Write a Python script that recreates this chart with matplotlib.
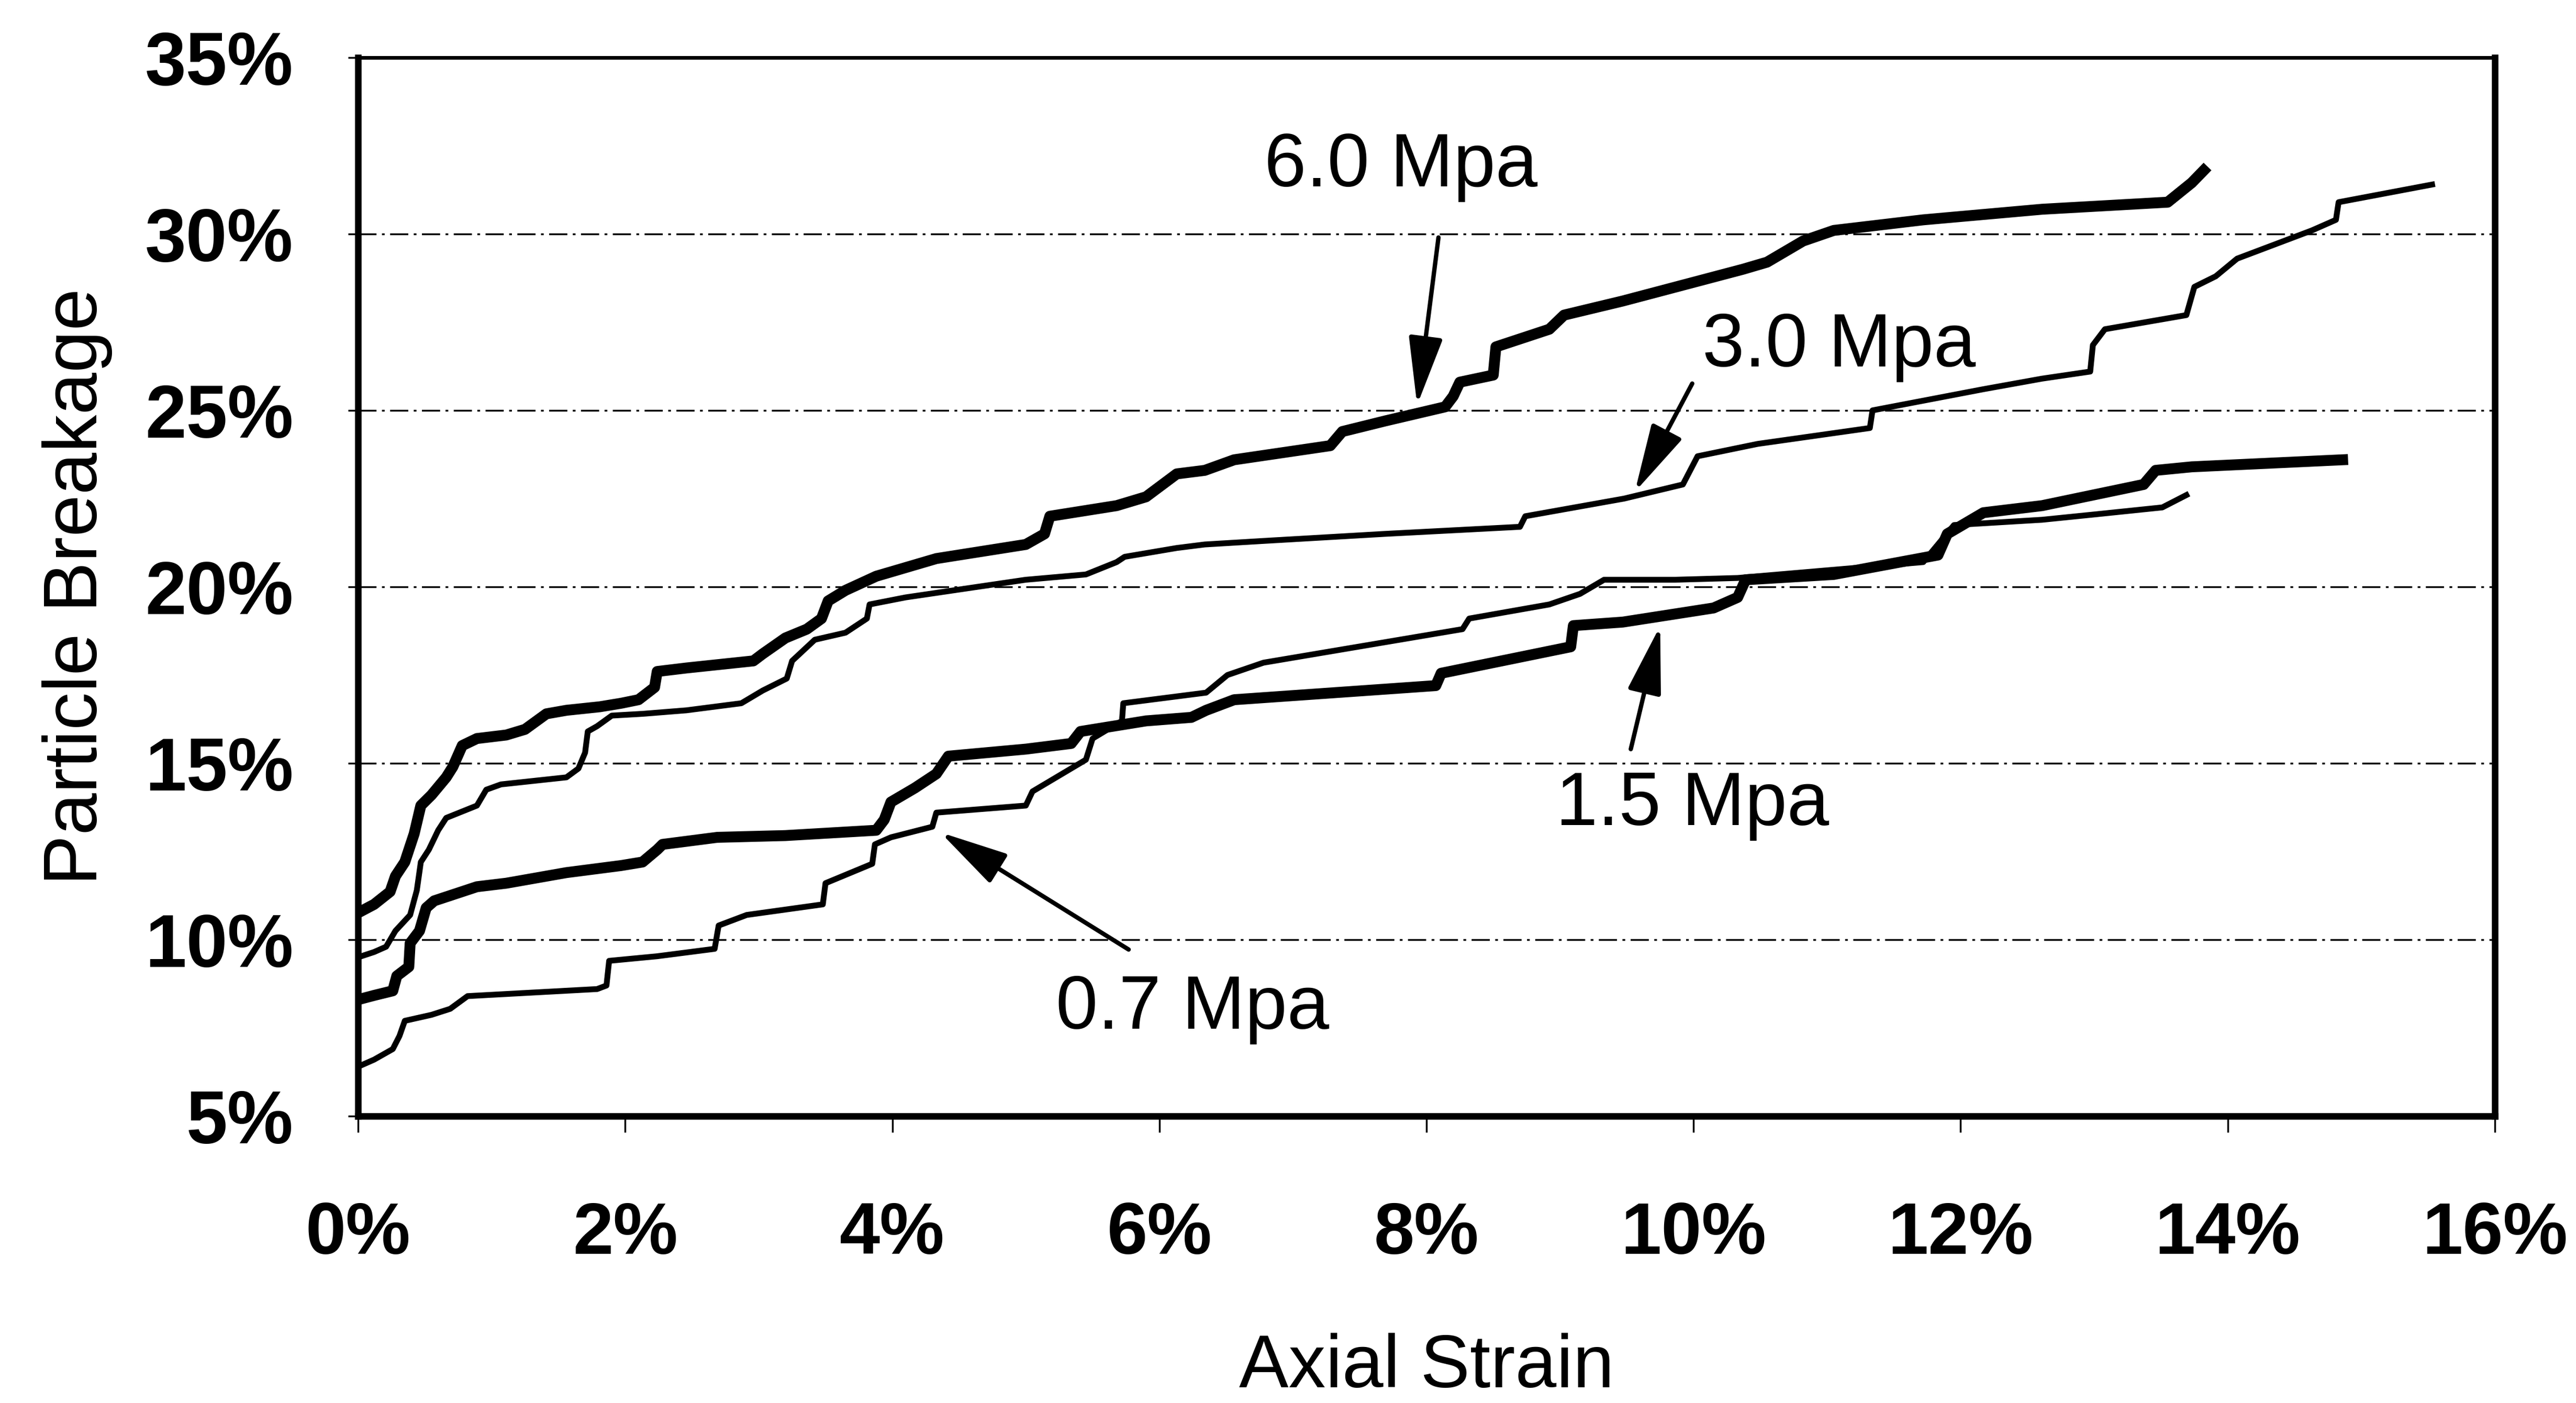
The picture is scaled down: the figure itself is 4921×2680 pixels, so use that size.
import matplotlib
matplotlib.use("Agg")
from matplotlib import pyplot as plt
from matplotlib.ticker import FuncFormatter

plt.rcParams['font.family'] = ['Liberation Sans', 'DejaVu Sans']

# axial strain (%) / particle breakage (%)
strain_60 = [0, 0.12, 0.24, 0.28, 0.35, 0.42, 0.47, 0.55, 0.66, 0.71, 0.78, 0.89, 1.11, 1.25, 1.41,
             1.56, 1.81, 1.97, 2.1, 2.22, 2.24, 2.46, 2.96, 3.03, 3.2, 3.36, 3.47, 3.52, 3.65, 3.88,
             4.33, 5.0, 5.14, 5.18, 5.68, 5.9, 6.13, 6.34, 6.56, 7.28, 7.37, 7.69, 8.14, 8.2, 8.25,
             8.5, 8.52, 8.92, 9.03, 9.47, 10.37, 10.55, 10.82, 11.05, 11.72, 12.61, 13.55, 13.73, 13.82]
break_60 = [10.76, 11.0, 11.36, 11.8, 12.2, 13.0, 13.8, 14.1, 14.6, 14.9, 15.5, 15.7, 15.8, 15.96, 16.4,
            16.5, 16.6, 16.7, 16.8, 17.15, 17.6, 17.7, 17.9, 18.1, 18.55, 18.8, 19.1, 19.6, 19.9, 20.3,
            20.8, 21.2, 21.5, 22.0, 22.3, 22.55, 23.2, 23.3, 23.6, 24.0, 24.4, 24.7, 25.1, 25.4, 25.8,
            26.0, 26.8, 27.3, 27.7, 28.1, 29.0, 29.2, 29.8, 30.1, 30.4, 30.7, 30.9, 31.45, 31.8]

strain_30 = [0, 0.12, 0.21, 0.28, 0.39, 0.44, 0.47, 0.53, 0.6, 0.66, 0.89, 0.96, 1.07, 1.56, 1.65,
             1.7, 1.72, 1.79, 1.9, 2.13, 2.46, 2.87, 3.03, 3.21, 3.25, 3.42, 3.65, 3.81, 3.83, 4.1,
             5.0, 5.45, 5.68, 5.74, 6.13, 6.34, 6.78, 7.69, 8.7, 8.74, 9.48, 9.92, 10.03, 10.48, 11.32,
             11.34, 12.17, 12.61, 12.97, 12.99, 13.08, 13.69, 13.75, 13.91, 14.07, 14.63, 14.81, 14.83, 15.53]
break_30 = [9.5, 9.65, 9.8, 10.25, 10.7, 11.4, 12.2, 12.55, 13.1, 13.45, 13.8, 14.25, 14.4, 14.6, 14.85,
            15.3, 15.9, 16.05, 16.35, 16.4, 16.5, 16.7, 17.06, 17.4, 17.9, 18.5, 18.7, 19.1, 19.5, 19.7,
            20.2, 20.35, 20.7, 20.85, 21.1, 21.2, 21.3, 21.5, 21.7, 22.0, 22.5, 22.9, 23.7, 24.05, 24.5,
            25.0, 25.6, 25.9, 26.1, 26.85, 27.3, 27.7, 28.5, 28.8, 29.3, 30.1, 30.4, 30.9, 31.4]

strain_15 = [0, 0.12, 0.26, 0.29, 0.38, 0.39, 0.46, 0.51, 0.57, 0.89, 1.11, 1.56, 1.97, 2.13, 2.24,
             2.28, 2.69, 3.2, 3.88, 3.94, 3.99, 4.17, 4.33, 4.42, 5.0, 5.34, 5.41, 5.9, 6.24, 6.35,
             6.56, 8.07, 8.11, 9.08, 9.1, 9.47, 10.15, 10.33, 10.39, 11.05, 11.83, 11.9, 12.17, 12.61,
             13.37, 13.46, 13.73, 14.86]
break_15 = [8.3, 8.42, 8.55, 8.97, 9.23, 9.9, 10.25, 10.9, 11.1, 11.5, 11.6, 11.9, 12.1, 12.2, 12.55,
            12.7, 12.9, 12.95, 13.1, 13.4, 13.9, 14.3, 14.7, 15.2, 15.4, 15.56, 15.9, 16.2, 16.3, 16.5,
            16.8, 17.2, 17.55, 18.3, 18.9, 19.0, 19.4, 19.7, 20.2, 20.35, 20.9, 21.5, 22.1, 22.3,
            22.9, 23.3, 23.4, 23.6]

strain_07 = [0, 0.12, 0.26, 0.31, 0.35, 0.55, 0.69, 0.82, 1.11, 1.79, 1.86, 1.88, 2.24, 2.67, 2.7,
             2.91, 3.48, 3.5, 3.85, 3.87, 3.99, 4.3, 4.33, 5.0, 5.05, 5.45, 5.5, 5.72, 5.73, 6.35,
             6.51, 6.78, 8.27, 8.32, 8.92, 9.15, 9.33, 9.86, 10.33, 11.72, 11.95, 12.17, 12.61, 13.0,
             13.51, 13.69]
break_07 = [6.4, 6.6, 6.9, 7.27, 7.7, 7.87, 8.04, 8.4, 8.46, 8.6, 8.7, 9.4, 9.53, 9.74, 10.4,
            10.7, 11.0, 11.6, 12.15, 12.7, 12.9, 13.2, 13.6, 13.8, 14.2, 15.1, 15.7, 16.2, 16.7, 17.0,
            17.5, 17.85, 18.8, 19.1, 19.5, 19.8, 20.2, 20.2, 20.25, 20.7, 21.75, 21.8, 21.9, 22.05,
            22.25, 22.6]

labels = ["6.0 Mpa", "3.0 Mpa", "1.5 Mpa", "0.7 Mpa"]
# text centre, arrow tail, arrow tip (data coords)
label_pos = [(7.81, 31.9), (11.09, 26.8), (9.99, 13.8), (6.25, 8.04)]
arrow_tail = [(8.09, 29.9), (9.99, 25.76), (9.53, 15.4), (5.77, 9.72)]
arrow_tip = [(7.93, 25.15), (9.56, 22.69), (9.75, 18.89), (4.36, 13.04)]

fig = plt.figure(figsize=(49.21, 26.8), dpi=100)
ax = fig.add_axes([0.139, 0.2045, 0.8295, 0.7545])

ax.plot(strain_60, break_60, color='black', lw=15, solid_joinstyle='round', zorder=3)
ax.plot(strain_30, break_30, color='black', lw=8, solid_joinstyle='round', zorder=3)
ax.plot(strain_15, break_15, color='black', lw=15, solid_joinstyle='round', zorder=3)
ax.plot(strain_07, break_07, color='black', lw=8, solid_joinstyle='round', zorder=3)

ax.set_xlim(0, 16)
ax.set_ylim(5, 35)
ax.set_xticks(range(0, 17, 2))
ax.set_yticks(range(5, 36, 5))
ax.xaxis.set_major_formatter(FuncFormatter(lambda v, p: "%d%%" % v))
ax.yaxis.set_major_formatter(FuncFormatter(lambda v, p: "%d%%" % v))

#dash-dot gridlines, only inside
for g in range(10, 31, 5):
    ax.axhline(g, color='black', lw=2.5, ls=(0, (10, 3, 1.5, 3)), zorder=1)

for s in ['left', 'bottom', 'right']:
    ax.spines[s].set_linewidth(9)
ax.spines['top'].set_linewidth(5)

ax.tick_params(axis='x', direction='out', length=22, width=2.5, pad=95, labelsize=100)
ax.tick_params(axis='y', direction='out', length=14, width=2.5, pad=75, labelsize=102)
for t in ax.get_xticklabels() + ax.get_yticklabels():
    t.set_fontweight('bold')

ax.set_xlabel("Axial Strain", fontsize=102)
ax.set_ylabel("Particle Breakage", fontsize=104)
ax.xaxis.set_label_coords(0.5, -0.205)
ax.yaxis.set_label_coords(-0.115, 0.5)

for lab, pos, tail, tip in zip(labels, label_pos, arrow_tail, arrow_tip):
    ax.text(pos[0], pos[1], lab, fontsize=104, ha='center', va='center', zorder=5)
    ax.annotate("", xy=tip, xytext=tail,
                arrowprops=dict(arrowstyle='-|>,head_length=0.8,head_width=0.2',
                                mutation_scale=100, lw=6, color='black',
                                shrinkA=0, shrinkB=0), zorder=5)

fig.savefig("out.png", dpi=100, facecolor='white')
